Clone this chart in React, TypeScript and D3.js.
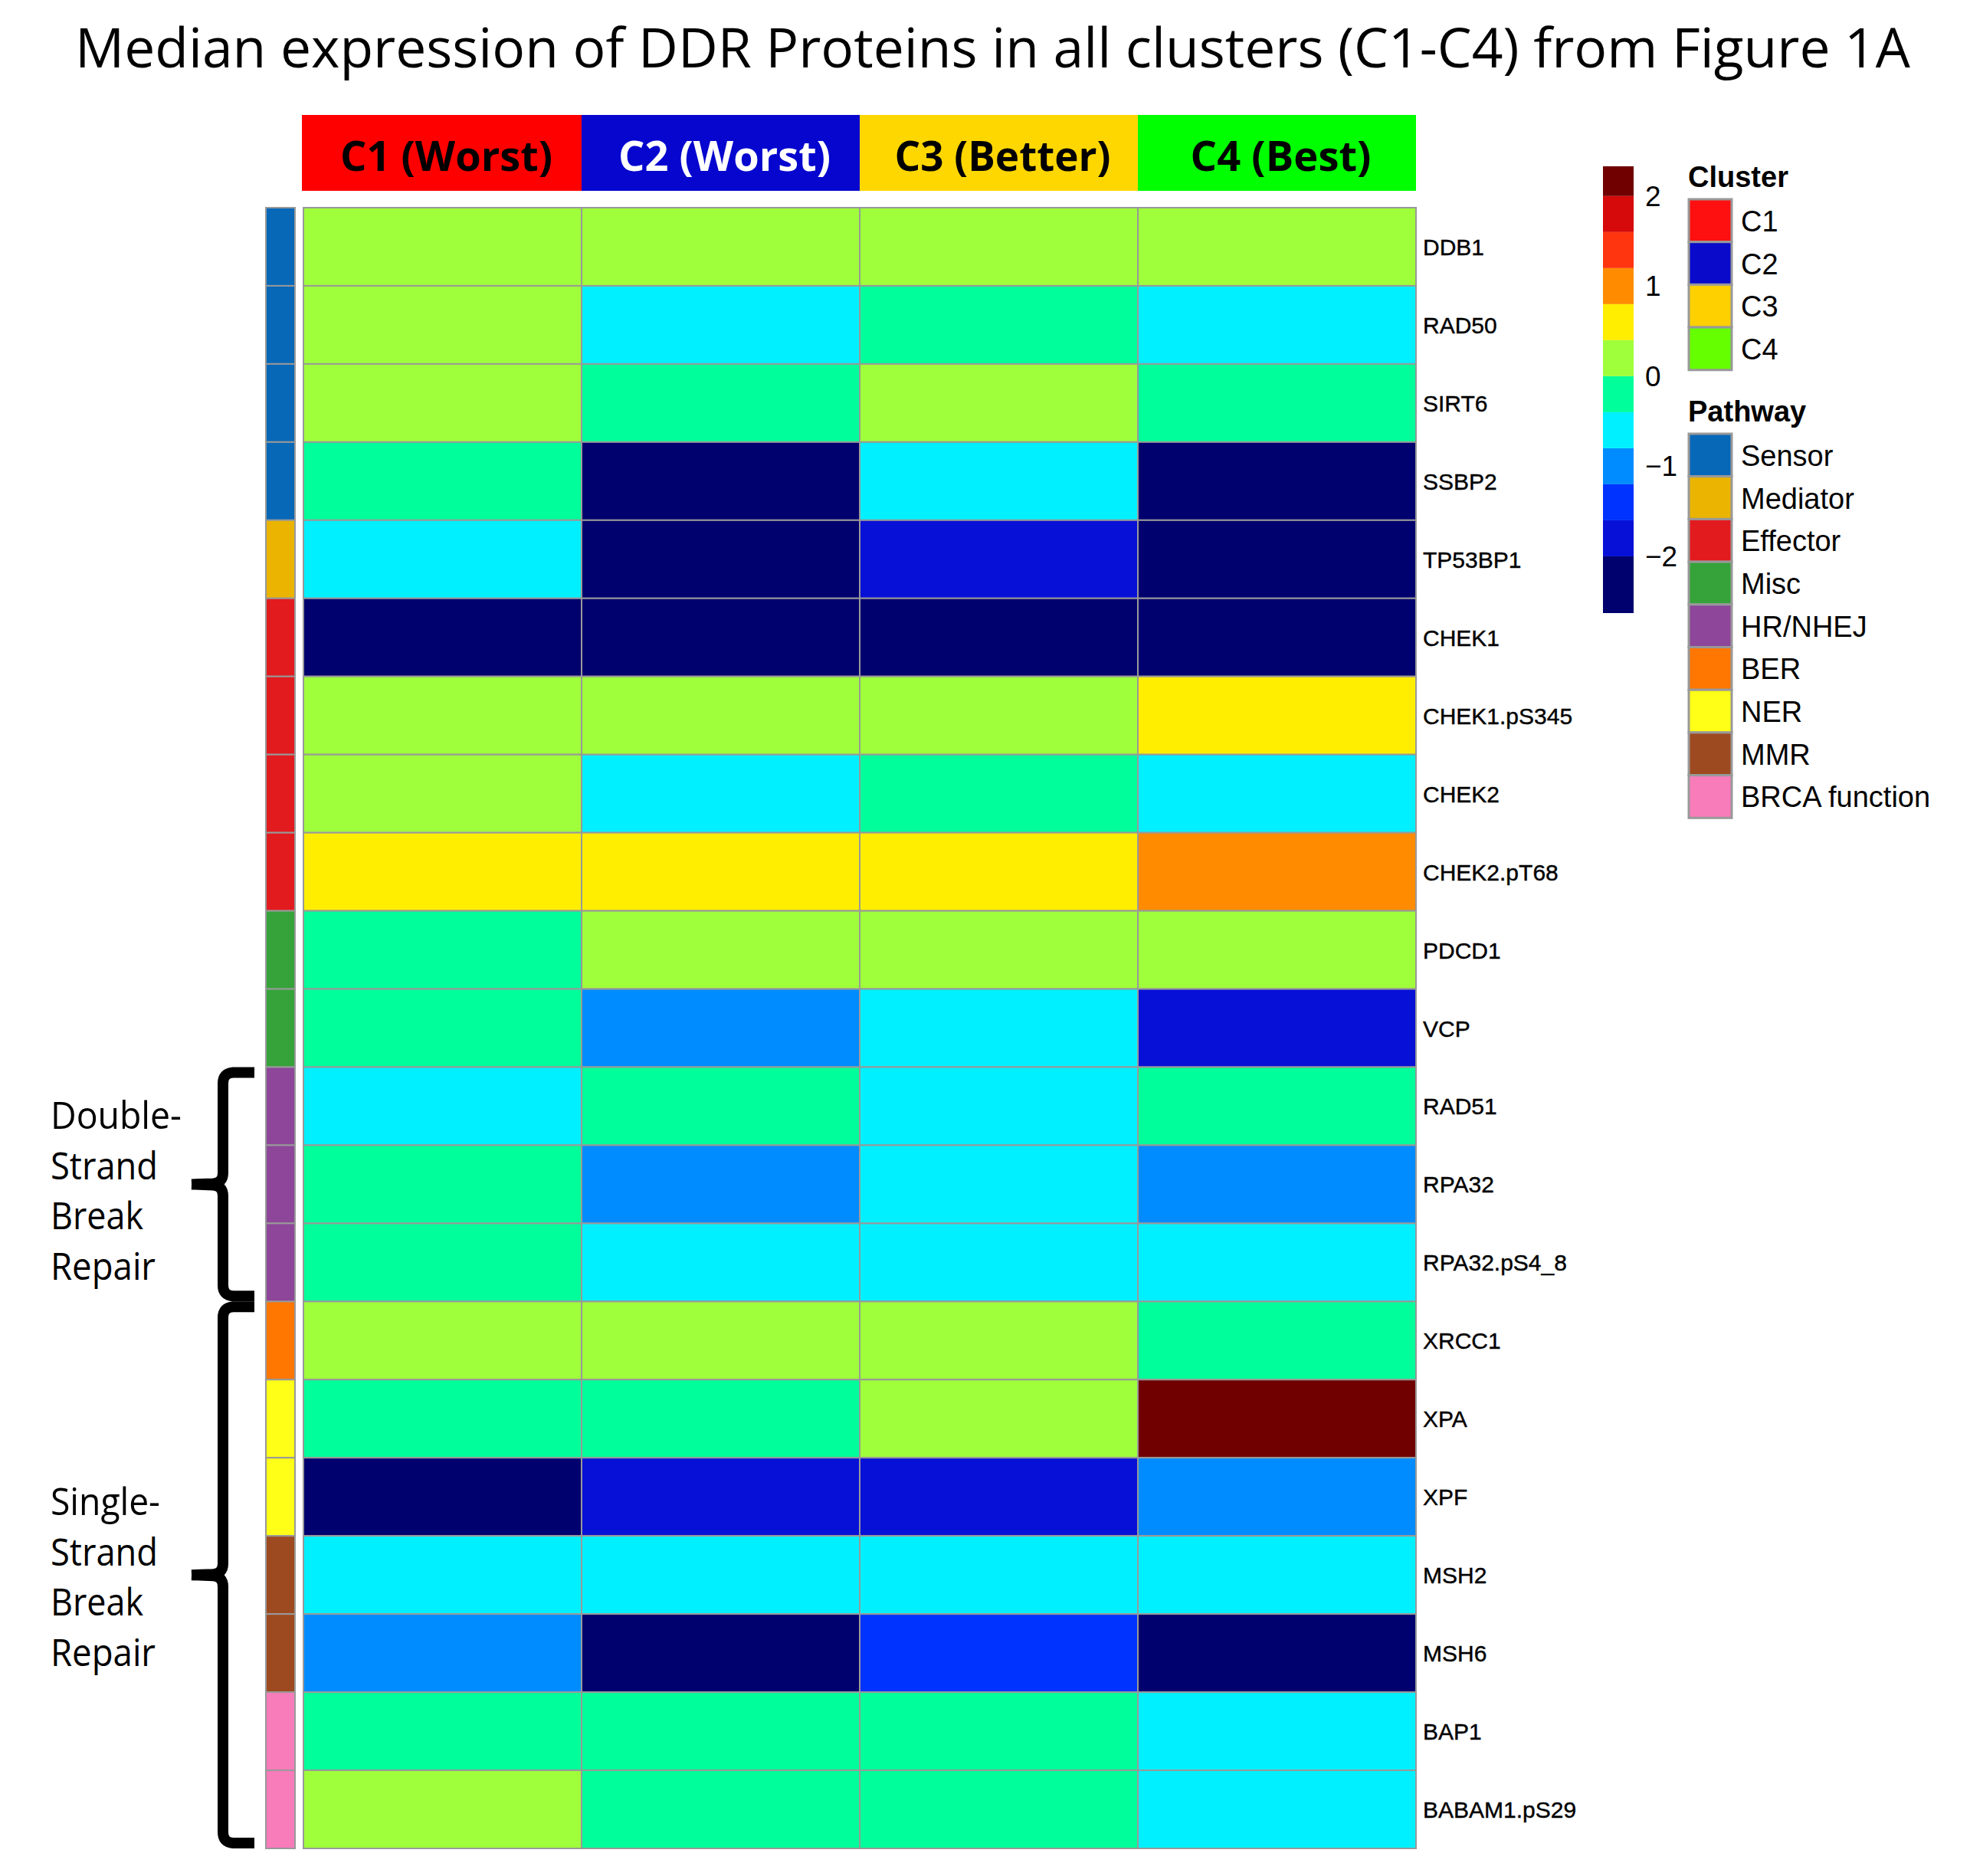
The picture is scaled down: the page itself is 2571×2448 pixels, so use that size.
import React, { useEffect } from 'react';
import * as d3 from 'd3';

const proteins = [
  'DDB1', 'RAD50', 'SIRT6', 'SSBP2', 'TP53BP1', 'CHEK1', 'CHEK1.pS345', 'CHEK2',
  'CHEK2.pT68', 'PDCD1', 'VCP', 'RAD51', 'RPA32', 'RPA32.pS4_8', 'XRCC1', 'XPA',
  'XPF', 'MSH2', 'MSH6', 'BAP1', 'BABAM1.pS29',
];
const proteinPathway = [
  'Sensor', 'Sensor', 'Sensor', 'Sensor', 'Mediator', 'Effector', 'Effector', 'Effector',
  'Effector', 'Misc', 'Misc', 'HR/NHEJ', 'HR/NHEJ', 'HR/NHEJ', 'BER', 'NER',
  'NER', 'MMR', 'MMR', 'BRCA function', 'BRCA function',
];
const clusterIds = ['C1', 'C2', 'C3', 'C4'];
const clusterHeaders = ['C1 (Worst)', 'C2 (Worst)', 'C3 (Better)', 'C4 (Best)'];
const headerColors = ['#FF0000', '#0606CF', '#FFD700', '#00FF00'];
const headerTextColors = ['#000000', '#FFFFFF', '#000000', '#000000'];
const headerTextWidths = [277, 277, 282, 236];

const valuesC1 = [0.2, 0.2, 0.2, -0.2, -0.6, -2.3, 0.2, 0.2, 0.6, -0.2, -0.2, -0.6, -0.2, -0.2, 0.2, -0.2, -2.3, -0.6, -1.0, -0.2, 0.2];
const valuesC2 = [0.2, -0.6, -0.2, -2.3, -2.3, -2.3, 0.2, -0.6, 0.6, 0.2, -1.0, -0.2, -1.0, -0.6, 0.2, -0.2, -1.8, -0.6, -2.3, -0.2, -0.2];
const valuesC3 = [0.2, -0.2, 0.2, -0.6, -1.8, -2.3, 0.2, -0.2, 0.6, 0.2, -0.6, -0.6, -0.6, -0.6, 0.2, 0.2, -1.8, -0.6, -1.4, -0.2, -0.2];
const valuesC4 = [0.2, -0.6, -0.2, -2.3, -2.3, -2.3, 0.6, -0.6, 1.0, 0.2, -1.8, -0.2, -1.0, -0.6, -0.2, 2.2, -1.0, -0.6, -2.3, -0.6, -0.6];
const clusterValues = [valuesC1, valuesC2, valuesC3, valuesC4];

const pathways = ['Sensor', 'Mediator', 'Effector', 'Misc', 'HR/NHEJ', 'BER', 'NER', 'MMR', 'BRCA function'];
const pathwayColors = ['#0868B8', '#EAB400', '#E21B1F', '#35A33A', '#8D4699', '#FF7600', '#FFFF17', '#9E4A20', '#F87BBA'];
const legendClusterColors = ['#FF1010', '#0A0ACA', '#FFD000', '#66FF00'];

const binBreaks = [-2.0, -1.6, -1.2, -0.8, -0.4, 0, 0.4, 0.8, 1.2, 1.6, 2.0];
const binColors = ['#00006E', '#0610D6', '#0033FF', '#008CFF', '#00F0FF', '#00FF9B', '#A0FF3B', '#FFEE00', '#FF8C00', '#FF3510', '#D60A0A', '#700000'];
const colorbarDomain = [-2.63, 2.33];
const colorbarTicks = [2, 1, 0, -1, -2];

const dsbLines = ['Double-', 'Strand', 'Break', 'Repair'];
const dsbWidths = [171, 140, 121, 137];
const ssbLines = ['Single-', 'Strand', 'Break', 'Repair'];
const ssbWidths = [143, 140, 121, 137];

const W = 2571;
const H = 2448;
const GRID = '#999999';

function Brace({ y0, y1 }: { y0: number; y1: number }) {
  const ym = (y0 + y1) / 2;
  const d = `M332,${y0 + 7} L304,${y0 + 7} Q291,${y0 + 8} 291,${y0 + 21} L291,${ym - 15} Q291,${ym - 2} 278,${ym - 1} L250,${ym} M250,${ym} L278,${ym + 1} Q291,${ym + 2} 291,${ym + 15} L291,${y1 - 21} Q291,${y1 - 8} 304,${y1 - 7} L332,${y1 - 7}`;
  return <path d={d} fill="none" stroke="#000" strokeWidth={14} strokeLinejoin="round" />;
}

export default function App() {
  useEffect(() => {
    document.body.style.margin = '0';
  }, []);

  const x = d3.scaleBand<string>().domain(clusterIds).range([396, 1848]);
  const y = d3.scaleBand<string>().domain(proteins).range([271, 2412]);
  const color = d3.scaleThreshold<number, string>().domain(binBreaks).range(binColors);
  const pathwayColor = d3.scaleOrdinal<string, string>().domain(pathways).range(pathwayColors);
  const cb = d3.scaleLinear().domain([colorbarDomain[1], colorbarDomain[0]]).range([217, 800]);

  const binEdges = [colorbarDomain[0], ...binBreaks, colorbarDomain[1]];
  const legendBox = 55.7;
  const clusterTop = 260;
  const pathwayTop = 566;
  const fmt = (v: number) => (v < 0 ? '\u2212' + Math.abs(v) : String(v));

  return (
    <svg width={W} height={H} viewBox={`0 0 ${W} ${H}`} style={{ display: 'block', background: '#fff' }}>
      <rect x={0} y={0} width={W} height={H} fill="#fff" />
      <text x={98} y={88} textAnchor="start" fontFamily="Open Sans" fontSize={72}
        textLength={2395} lengthAdjust="spacingAndGlyphs" fill="#000">
        Median expression of DDR Proteins in all clusters (C1-C4) from Figure 1A
      </text>

      {clusterIds.map((c, i) => (
        <g key={c}>
          <rect x={i === 0 ? 394 : x(c)!} y={150} width={i === 0 ? x.bandwidth() + 2 : x.bandwidth()} height={99} fill={headerColors[i]} />
          <text x={x(c)! + x.bandwidth() / 2 + 5} y={223} textAnchor="middle" fontFamily="Open Sans" fontWeight="bold"
            fontSize={53} textLength={headerTextWidths[i]} lengthAdjust="spacingAndGlyphs" fill={headerTextColors[i]}>
            {clusterHeaders[i]}
          </text>
        </g>
      ))}

      {proteins.map((p, r) => (
        <g key={p}>
          <rect x={347} y={y(p)!} width={38} height={y.bandwidth()} fill={pathwayColor(proteinPathway[r])} stroke={GRID} strokeWidth={2} />
          {clusterIds.map((c, ci) => (
            <rect key={c} x={x(c)!} y={y(p)!} width={x.bandwidth()} height={y.bandwidth()}
              fill={color(clusterValues[ci][r])} stroke={GRID} strokeWidth={2} />
          ))}
          <text x={1857} y={y(p)! + y.bandwidth() / 2 + 11} fontFamily="Liberation Sans" fontSize={30}
            fill="#000" stroke="#000" strokeWidth={0.4}>{p}</text>
        </g>
      ))}

      {binColors.map((col, i) => (
        <rect key={col} x={2092} y={cb(binEdges[i + 1])} width={40} height={cb(binEdges[i]) - cb(binEdges[i + 1])} fill={col} />
      ))}
      {colorbarTicks.map((t) => (
        <text key={t} x={2147} y={cb(t) + 13} fontFamily="Liberation Sans" fontSize={37} fill="#000">{fmt(t)}</text>
      ))}

      <text x={2203} y={244} fontFamily="Liberation Sans" fontWeight="bold" fontSize={38} fill="#000">Cluster</text>
      {clusterIds.map((c, i) => (
        <g key={c}>
          <rect x={2204} y={clusterTop + i * legendBox} width={56} height={legendBox} fill={legendClusterColors[i]} stroke={GRID} strokeWidth={3} />
          <text x={2272} y={clusterTop + i * legendBox + legendBox / 2 + 14} fontFamily="Liberation Sans" fontSize={38} fill="#000">{c}</text>
        </g>
      ))}

      <text x={2203} y={550} fontFamily="Liberation Sans" fontWeight="bold" fontSize={38} fill="#000">Pathway</text>
      {pathways.map((pw, i) => (
        <g key={pw}>
          <rect x={2204} y={pathwayTop + i * legendBox} width={56} height={legendBox} fill={pathwayColor(pw)} stroke={GRID} strokeWidth={3} />
          <text x={2272} y={pathwayTop + i * legendBox + legendBox / 2 + 14} fontFamily="Liberation Sans" fontSize={38} fill="#000">{pw}</text>
        </g>
      ))}

      <Brace y0={y('RAD51')!} y1={y('RPA32.pS4_8')! + y.bandwidth()} />
      <Brace y0={y('XRCC1')!} y1={y('BABAM1.pS29')! + y.bandwidth()} />

      {dsbLines.map((l, i) => (
        <text key={'d' + i} x={66} y={1473 + i * 65.5} fontFamily="Open Sans" fontSize={50}
          textLength={dsbWidths[i]} lengthAdjust="spacingAndGlyphs" fill="#000">{l}</text>
      ))}
      {ssbLines.map((l, i) => (
        <text key={'s' + i} x={66} y={1977 + i * 65.5} fontFamily="Open Sans" fontSize={50}
          textLength={ssbWidths[i]} lengthAdjust="spacingAndGlyphs" fill="#000">{l}</text>
      ))}
    </svg>
  );
}
